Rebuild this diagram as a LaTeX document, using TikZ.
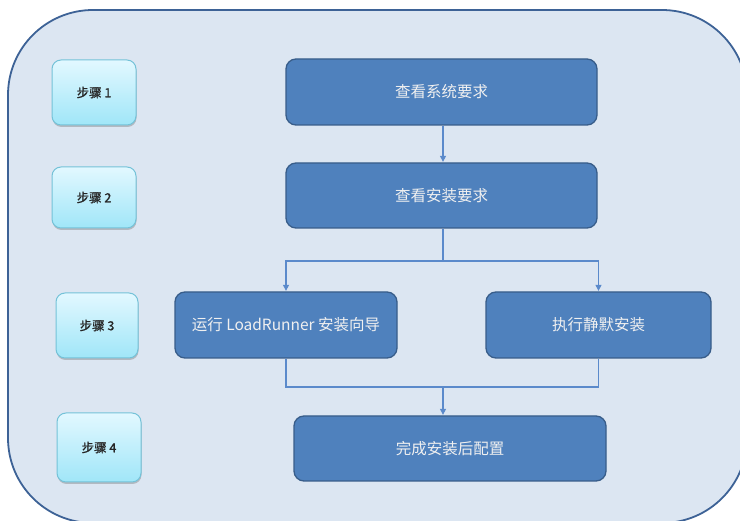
\documentclass[tikz,border=0pt]{standalone}
\usepackage{fontspec}
\setmainfont{Noto Sans CJK SC}
\newfontfamily\steplbl[FakeBold=1.2]{Noto Sans CJK SC}
\usetikzlibrary{arrows.meta,shadows}
\definecolor{panelfill}{HTML}{DCE6F2}
\definecolor{paneldraw}{HTML}{3D6296}
\definecolor{boxfill}{HTML}{4F81BD}
\definecolor{boxdraw}{HTML}{385D8A}
\definecolor{linecol}{HTML}{5B8ACB}
\definecolor{steptop}{HTML}{E2F8FF}
\definecolor{stepbot}{HTML}{A0E6F8}
\definecolor{stepdraw}{HTML}{74C2D8}
\tikzset{
  stepbox/.style={rounded corners=9pt, draw=stepdraw, line width=1pt,
    top color=steptop, bottom color=stepbot,
    drop shadow={shadow xshift=0.5pt, shadow yshift=-2pt, opacity=0.35, fill=black!60},
    font=\steplbl\fontsize{12.5}{14}\selectfont, text=black!85, inner sep=0pt},
  bluebox/.style={rounded corners=10pt, draw=boxdraw, line width=1.3pt, fill=boxfill,
    font=\fontsize{15.5}{18}\selectfont, text=white!94!black, inner sep=0pt},
  conn/.style={draw=linecol, line width=1.1pt},
  arr/.style={conn, -{Triangle[width=6pt,length=6pt]}, shorten >=0.5pt}
}
\begin{document}
\begin{tikzpicture}[x=1pt,y=-1pt]
\useasboundingbox (0,0) rectangle (740,521);
\clip (0,0) rectangle (740,521);
\draw[fill=panelfill, draw=paneldraw, line width=1.8pt, rounded corners=85pt] (8,10) rectangle (747,523);
% step boxes
\node[stepbox, minimum width=84pt, minimum height=65pt] (s1) at (94,92.5) {步骤 1};
\node[stepbox, minimum width=84pt, minimum height=61pt] (s2) at (94,197.5) {步骤 2};
\node[stepbox, minimum width=82pt, minimum height=65pt] (s3) at (97,325.5) {步骤 3};
\node[stepbox, minimum width=84pt, minimum height=69pt] (s4) at (99,447.5) {步骤 4};
% flow boxes
\node[bluebox, minimum width=311pt, minimum height=66pt] (b1) at (441.5,92) {查看系统要求};
\node[bluebox, minimum width=311pt, minimum height=65pt] (b2) at (441.5,195.5) {查看安装要求};
\node[bluebox, minimum width=222pt, minimum height=66pt] (b3) at (286,325) {运行 LoadRunner 安装向导};
\node[bluebox, minimum width=225pt, minimum height=66pt] (b4) at (598.5,325) {执行静默安装};
\node[bluebox, minimum width=312pt, minimum height=65pt] (b5) at (450,448.5) {完成安装后配置};
% connectors
\coordinate (split) at (443,261);
\coordinate (mrg) at (443,387);
\draw[arr] (b1.south -| split) -- (b2.north -| split);
\draw[conn] (b2.south -| split) -- (split);
\draw[arr] (split) -| (b3.north);
\draw[arr] (split) -| (b4.north);
\draw[conn] (b3.south) |- (mrg) -| (b4.south);
\draw[arr] (mrg) -- (b5.north -| mrg);
\end{tikzpicture}
\end{document}
